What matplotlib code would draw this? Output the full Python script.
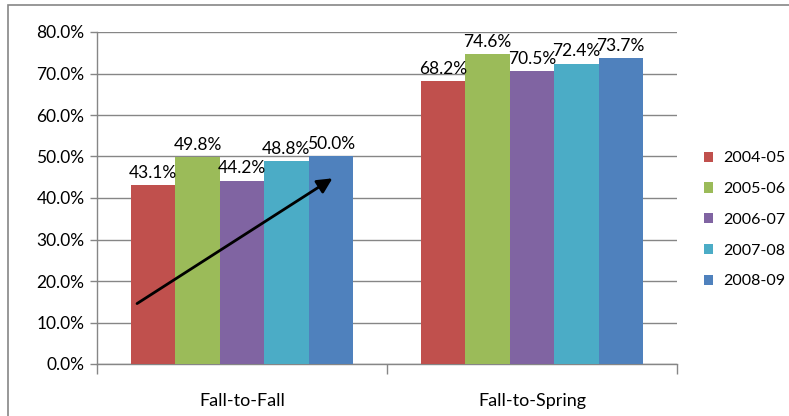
import matplotlib

matplotlib.use("Agg")

import matplotlib.pyplot as plt
import numpy as np
from matplotlib.patches import Rectangle

categories = ["Fall-to-Fall", "Fall-to-Spring"]
years = ["2004-05", "2005-06", "2006-07", "2007-08", "2008-09"]
rates = {
    "2004-05": [43.1, 68.2],
    "2005-06": [49.8, 74.6],
    "2006-07": [44.2, 70.5],
    "2007-08": [48.8, 72.4],
    "2008-09": [50.0, 73.7],
}
colors = ["#C0504D", "#9BBB59", "#8064A2", "#4BACC6", "#4F81BD"]
y_ticks = [0, 10, 20, 30, 40, 50, 60, 70, 80]
trend_start = (-0.37, 14.2)
trend_end = (0.32, 45.1)

plt.rcParams["font.family"] = ["Lato", "DejaVu Sans"]

W, H = 789, 416
fig = plt.figure(figsize=(W / 100, H / 100), dpi=100)
ax = fig.add_axes([97 / W, 1 - 364 / H, (677 - 97) / W, (364 - 32) / H])

fig.patches.append(Rectangle((8 / W, -0.05), (W + 10) / W, 1 - 5 / H + 0.05,
                             transform=fig.transFigure, fill=False,
                             edgecolor="#868686", linewidth=1.2))

x = np.arange(len(categories))
bw = 0.153
gridc = "#868686"
for i, (yr, c) in enumerate(zip(years, colors)):
    xs = x + (i - 2) * bw
    ax.bar(xs, rates[yr], width=bw, color=c, label=yr, zorder=3)
    for xi, v in zip(xs, rates[yr]):
        ax.annotate(f"{v:.1f}%", (xi, v), xytext=(0, 3), textcoords="offset points",
                    ha="center", va="bottom", fontsize=12.5, color="#000000", zorder=5)

ax.annotate("", xy=trend_end, xytext=trend_start,
            arrowprops=dict(arrowstyle="-|>,head_length=0.9,head_width=0.45",
                            color="black", lw=2), zorder=6)

ax.set_xlim(-0.5, 1.5)
ax.set_ylim(0, 80)
ax.set_yticks(y_ticks)
ax.set_yticklabels([f"{t:.1f}%" for t in y_ticks], fontsize=12.5)
ax.yaxis.grid(True, color=gridc, linewidth=1, zorder=0)
ax.set_xticks([-0.5, 0.5, 1.5])
ax.set_xticklabels([])
ax.set_xticks(x, minor=True)
ax.set_xticklabels(categories, minor=True, fontsize=13)
ax.tick_params(axis="x", which="major", length=7, color=gridc, width=1)
ax.tick_params(axis="x", which="minor", length=0, pad=21)
ax.tick_params(axis="y", length=5, color=gridc, width=1, pad=4)

for s in ["top", "right"]:
    ax.spines[s].set_visible(False)
for s in ["left", "bottom"]:
    ax.spines[s].set_color(gridc)
    ax.spines[s].set_linewidth(1)

leg = ax.legend(loc="center left", bbox_to_anchor=(1.021, 0.434), frameon=False,
                fontsize=11.5, handlelength=0.6, handleheight=0.6,
                handletextpad=0.6, labelspacing=1.05, borderaxespad=0.5)

fig.savefig("out.png", dpi=100)
